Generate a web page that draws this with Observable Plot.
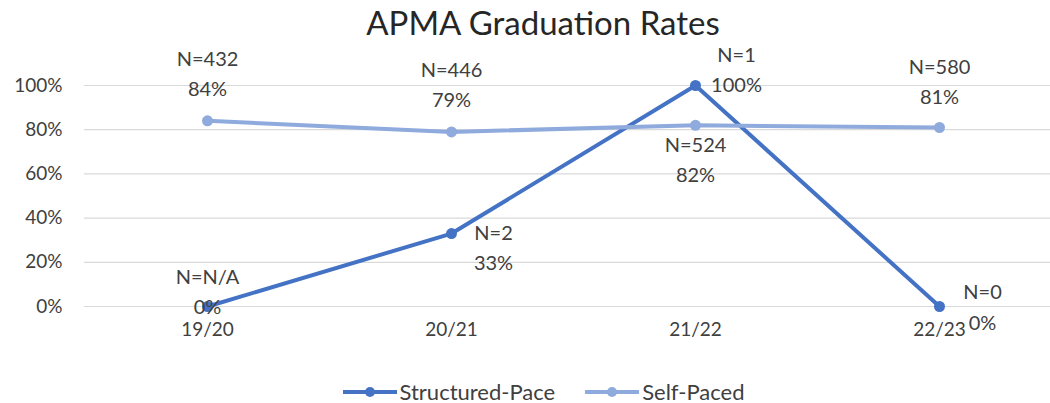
<!DOCTYPE html>
<html>
<head>
<meta charset="utf-8">
<script src="https://cdn.jsdelivr.net/npm/d3@7"></script>
<script src="https://cdn.jsdelivr.net/npm/@observablehq/plot@0.6"></script>
<style>
  html, body { margin: 0; padding: 0; background: #fff; }
  body { width: 1050px; height: 403px; position: relative; overflow: hidden; font-family: Lato, "Open Sans", sans-serif; }
  #title { position: absolute; left: 0; top: 0; width: 1086px; height: 44px; text-align: center; font-size: 33px; line-height: 44px; color: #262626; z-index: 2; }
  #chart { position: absolute; left: 0; top: 24px; z-index: 1; }
  #chart svg { overflow: visible; }
  #legend { position: absolute; left: 0; top: 378px; width: 1086px; display: flex; justify-content: center; align-items: center; gap: 29px; font-size: 22px; color: #404040; }
  .item { display: flex; align-items: center; }
  .item svg { margin-right: 2px; }
</style>
</head>
<body>
<div id="title">APMA Graduation Rates</div>
<div id="chart"></div>
<div id="legend"></div>
<script>
// ---- data ----
const categories = ["19/20", "20/21", "21/22", "22/23"];
const seriesNames = ["Structured-Pace", "Self-Paced"];
const structuredRates = [0, 33, 100, 0];
const selfPacedRates = [84, 79, 82, 81];
const structuredN = ["N/A", "2", "1", "0"];
const selfPacedN = ["432", "446", "524", "580"];
const yTicks = [0, 20, 40, 60, 80, 100];

// ---- styles ----
const FONT = "Lato, 'Open Sans', sans-serif";
const FS = 19;
const LFS = 20;
const colors = {"Structured-Pace": "#4472C4", "Self-Paced": "#8FAADC"};
// label placement per series (index by category): [textAnchor, dx, dy of N line, dy of % line]
const placement = {
  "Structured-Pace": [["middle", 0, -29, 1], ["middle", 42, 0, 30], ["middle", 41, -30, 0], ["middle", 43, -14, 17]],
  "Self-Paced": [["middle", 0, -61, -31], ["middle", 0, -61, -31], ["middle", 0, 20, 50], ["middle", 0, -60, -30]]
};

const rows = [];
categories.forEach((c, i) => {
  rows.push({series: seriesNames[0], cat: c, rate: structuredRates[i], n: structuredN[i], i});
  rows.push({series: seriesNames[1], cat: c, rate: selfPacedRates[i], n: selfPacedN[i], i});
});

const labelMarks = [];
for (const r of rows) {
  const [anchor, dx, dyN, dyP] = placement[r.series][r.i];
  const common = {x: "cat", y: "rate", textAnchor: anchor, dx, fontSize: LFS, fill: "#404040", fontFamily: FONT};
  labelMarks.push(Plot.text([r], {...common, text: d => "N=" + d.n, dy: dyN}));
  labelMarks.push(Plot.text([r], {...common, text: d => Math.round(d.rate) + "%", dy: dyP}));
}

const lineMarks = [];
for (const s of ["Structured-Pace", "Self-Paced"]) {
  const data = rows.filter(r => r.series === s);
  lineMarks.push(Plot.line(data, {x: "cat", y: "rate", stroke: colors[s], strokeWidth: 4, strokeLinejoin: "round", strokeLinecap: "round"}));
  lineMarks.push(Plot.dot(data, {x: "cat", y: "rate", fill: colors[s], r: 5.5}));
}

const chart = Plot.plot({
  width: 1050,
  height: 320,
  marginLeft: 84,
  marginRight: 0,
  marginTop: 61,
  marginBottom: 38,
  style: {fontFamily: FONT, fontSize: FS + "px", color: "#404040", background: "transparent"},
  x: {type: "point", domain: categories, range: [206, 940], padding: 0, label: null},
  y: {domain: [0, 100], label: null},
  marks: [
    Plot.gridY(yTicks, {stroke: "#D9D9D9", strokeOpacity: 1, strokeWidth: 1.2}),
    Plot.axisY(yTicks, {tickSize: 0, tickPadding: 22, tickFormat: d => d + "%", fontSize: FS, label: null}),
    Plot.axisX(categories, {tickSize: 0, tickPadding: 16, fontSize: FS, label: null}),
    ...lineMarks,
    ...labelMarks
  ]
});
document.getElementById("chart").appendChild(chart);

// legend
const legend = document.getElementById("legend");
for (const s of seriesNames) {
  const item = document.createElement("div");
  item.className = "item";
  item.innerHTML = `<svg width="56" height="14"><line x1="1" x2="55" y1="7" y2="7" stroke="${colors[s]}" stroke-width="4"/><circle cx="28" cy="7" r="5" fill="${colors[s]}"/></svg><span>${s}</span>`;
  legend.appendChild(item);
}
</script>
</body>
</html>
